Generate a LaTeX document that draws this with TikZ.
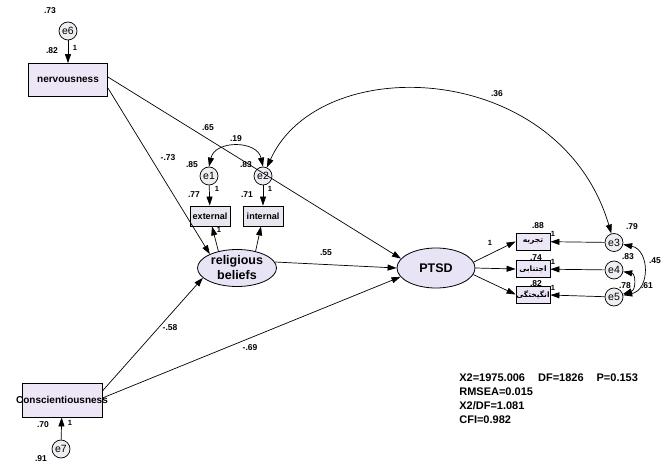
\documentclass[tikz,border=0pt]{standalone}
\usepackage{fontspec}
\setmainfont{Liberation Sans}
\newfontfamily\arabicfont[Script=Arabic]{DejaVu Sans}
\TeXXeTstate=1
\usetikzlibrary{positioning,arrows.meta,shapes.geometric}

\definecolor{obsfill}{RGB}{236,230,246}
\definecolor{itemfill}{RGB}{232,230,238}
\definecolor{latfill}{RGB}{232,228,245}
\definecolor{errfill}{RGB}{238,238,242}

\begin{document}
\begin{tikzpicture}[x=1pt,y=-1pt,>={Triangle[length=9pt,width=6pt]},line width=0.7pt,
	obs/.style={draw,line width=0.8pt,fill=obsfill,inner sep=0pt,font=\bfseries\fontsize{10}{12}\selectfont},
	item/.style={draw,line width=0.8pt,fill=itemfill,inner sep=0pt,minimum width=40pt,minimum height=20pt,font=\bfseries\fontsize{9}{10}\selectfont},
	fa/.style={draw,line width=0.8pt,fill=obsfill,inner sep=0pt,minimum width=34pt,minimum height=17pt,font=\arabicfont\bfseries\fontsize{7.5}{8}\selectfont},
	lat/.style={draw,ellipse,line width=0.8pt,fill=latfill,inner sep=0pt,align=center,font=\bfseries\fontsize{12.5}{15}\selectfont},
	err/.style={draw,circle,line width=0.7pt,fill=errfill,minimum size=18pt,inner sep=0pt,font=\fontsize{10.5}{10.5}\selectfont},
	lbl/.style={inner sep=0pt,font=\bfseries\fontsize{8.5}{9}\selectfont},
	one/.style={inner sep=0pt,font=\bfseries\fontsize{7.5}{8}\selectfont}]
	\useasboundingbox (0,0) rectangle (667,465);

	% exogenous variables
	\node[err] (e6) at (68,31) {e6};
	\node[obs,minimum width=79pt,minimum height=33pt] (nerv) at (68,80) {nervousness};
	\node[obs,minimum height=34pt] (cons) at (62,400) {\makebox[80pt]{Conscientiousness}};
	\node[err] (e7) at (61,449) {e7};

	% religious beliefs
	\node[lat,minimum width=79pt,minimum height=37pt] (rel) at (237,268) {religious\\beliefs};
	\node[item] (ext) at (210,216) {external};
	\node[item] (int) at (263,216) {internal};
	\node[err] (e1) at (209,176) {e1};
	\node[err] (e2) at (263,176) {e2};

	% PTSD
	\node[lat,minimum width=78pt,minimum height=40pt] (ptsd) at (436,268) {PTSD};
	\node[fa] (t1) at (533,241.5) {\beginR تجربه\endR};
	\node[fa] (t2) at (533,269) {\beginR اجتنابی\endR};
	\node[fa] (t3) at (533,294.5) {\beginR انگیختگی\endR};
	\node[err] (e3) at (614,242.5) {e3};
	\node[err] (e4) at (614,270) {e4};
	\node[err] (e5) at (614,297) {e5};

	% paths
	\draw[->] (e6) -- (nerv);
	\draw[->] (e7) -- (cons);
	\draw[->] ([yshift=3pt]nerv.east) -- (ptsd.165);
	\draw[->] ([yshift=-8pt]nerv.east) -- (rel.153);
	\draw[->] ([yshift=9pt]cons.east) -- (rel.196);
	\draw[->] ([yshift=2pt]cons.east) -- (ptsd.194);
	\draw[->] (rel.9) -- (ptsd.west);
	\draw[->] (rel.138) -- ([xshift=2pt]ext.south);
	\draw[->] (rel.42) -- ([xshift=-2pt]int.south);
	\draw[->] (e1) -- (ext);
	\draw[->] (e2) -- (int);
	\draw[->] (ptsd.9) -- (t1.west);
	\draw[->] (ptsd.east) -- (t2.west);
	\draw[->] (ptsd.-10) -- (t3.west);
	\draw[->] (e3) -- (t1);
	\draw[->] (e4) -- (t2);
	\draw[->] (e5) -- (t3);

	% covariances
	\draw[<->] (e1.north) .. controls (215,140) and (257,140) .. (e2.north);
	\draw[<->] (e2) .. controls (320,50) and (560,60) .. (e3);
	\draw[<->] (e3) .. controls (650,250) and (650,290) .. (e5);
	\draw[<->] (e4) .. controls (636,274) and (636,290) .. (e5);

	% estimates
	\node[lbl] (v6) at (50,11) {.73};
	\node[lbl] (r6) at (52,51) {.82};
	\node[one] (o6) at (75,48) {1};
	\node[lbl] (b1) at (208,128) {.65};
	\node[lbl] (b2) at (168,158) {-.73};
	\node[lbl] (c12) at (236,139) {.19};
	\node[lbl] (v1) at (192,165) {.85};
	\node[lbl] (v2) at (246,165) {.83};
	\node[lbl] (r1) at (194,195) {.77};
	\node[one] (o1) at (217,189) {1};
	\node[lbl] (r2) at (247,195) {.71};
	\node[one] (o2) at (270,189) {1};
	\node[one] (o0) at (219,230) {1};
	\node[lbl] (b3) at (326,253) {.55};
	\node[lbl] (b4) at (170,328) {-.58};
	\node[lbl] (b5) at (250,348) {-.69};
	\node[lbl] (c23) at (497,94) {.36};
	\node[one] (o3) at (490,243) {1};
	\node[lbl] (r3) at (538,226) {.88};
	\node[one] (o4) at (553,234) {1};
	\node[lbl] (r4) at (536,258) {.74};
	\node[one] (o5) at (553,262) {1};
	\node[lbl] (r5) at (536,284) {.82};
	\node[one] (o7) at (553,288) {1};
	\node[lbl] (v3) at (632,227) {.79};
	\node[lbl] (v4) at (628,257) {.83};
	\node[lbl] (c35) at (655,261) {.45};
	\node[lbl] (v5) at (625,286) {.78};
	\node[lbl] (c45) at (647,286) {.61};
	\node[lbl] (r7) at (43,425) {.70};
	\node[one] (o8) at (70,423) {1};
	\node[lbl] (v7) at (41,459) {.91};

	% fit
	\node[inner sep=0pt,anchor=north west,align=left,font=\bfseries\fontsize{11}{14}\selectfont] (fit) at (459,373)
		{X2=1975.006\hspace{13pt}DF=1826\hspace{13pt}P=0.153\\RMSEA=0.015\\X2/DF=1.081\\CFI=0.982};
\end{tikzpicture}
\end{document}
